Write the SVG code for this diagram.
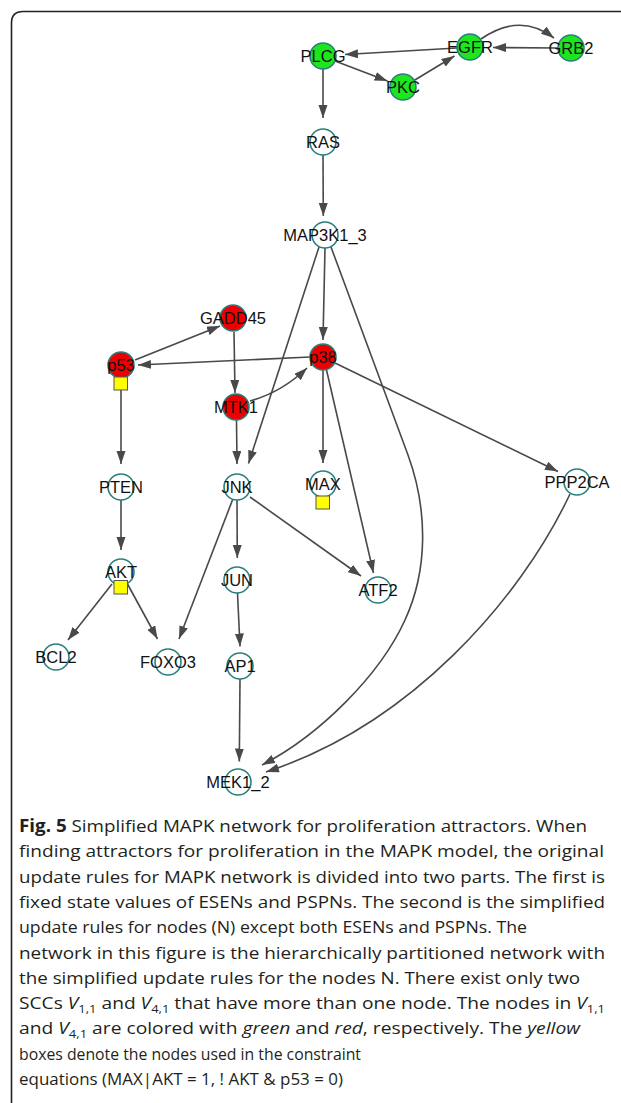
<svg xmlns="http://www.w3.org/2000/svg" width="621" height="1103" viewBox="0 0 621 1103">
<style>
.e{fill:none;stroke:#494949;stroke-width:1.6;marker-end:url(#ah)}
.n{stroke:#2a7f7f;stroke-width:1.6}
.w{fill:#fff}
.g{fill:#1ee61e}
.r{fill:#ee0000}
.lb{font-family:"Liberation Sans",Arial,sans-serif;font-size:16.5px;fill:#111;text-anchor:middle}
.yb{fill:#ffff00;stroke:#555;stroke-width:1}
.cap{font-family:"Open Sans","Noto Sans",sans-serif;font-size:17px;fill:#231f20}
.sub{font-size:11.5px}
</style>
<defs>
<marker id="ah" markerUnits="userSpaceOnUse" markerWidth="14" markerHeight="10" refX="13" refY="4.5" orient="auto">
<path d="M0,0 L13,4.5 L0,9 z" fill="#494949"/>
</marker>
</defs>
<path d="M621 11.5 H23 Q11.5 11.5 11.5 23 V1103" fill="none" stroke="#222" stroke-width="1.6"/>
<g id="connectors">
<path class="e" d="M457 48 L345 54.5"/>
<path class="e" d="M335 61 L387.5 81"/>
<path class="e" d="M414 80.5 L454.5 56"/>
<path class="e" d="M558 48 L493 47.5"/>
<path class="e" d="M481 39 Q520 12 554 38"/>
<path class="e" d="M323 69 L323 118"/>
<path class="e" d="M323 155 L323.3 216"/>
<path class="e" d="M325 248 L323 340"/>
<path class="e" d="M319 247 L248.5 463.5"/>
<path class="e" d="M331 247 L408 455 C428 510 428 570 405 620 C380 675 320 735 262 765"/>
<path class="e" d="M135 360 L220 326"/>
<path class="e" d="M234 332 L235 393"/>
<path class="e" d="M310 357 L138 365"/>
<path class="e" d="M250 401 Q282 392 307 368"/>
<path class="e" d="M236.5 420 L237 464"/>
<path class="e" d="M323 370 L323 463"/>
<path class="e" d="M326.5 370 L373.5 573"/>
<path class="e" d="M335 363 L558 471.5"/>
<path class="e" d="M121 390 L121 464"/>
<path class="e" d="M121 500 L121 550"/>
<path class="e" d="M112 584 L68 640"/>
<path class="e" d="M127.5 584 L157.5 639"/>
<path class="e" d="M232.5 500 L179 639"/>
<path class="e" d="M237 500 L237.3 558"/>
<path class="e" d="M250 497 L361 576"/>
<path class="e" d="M237.5 593 L240 646.5"/>
<path class="e" d="M240 679 L239.3 761.5"/>
<path class="e" d="M570 494 C520 600 410 725 266 772"/>
</g>
<g id="PLCG"><circle class="n g" cx="323" cy="56" r="13"/><text class="lb" x="323" y="61.5">PLCG</text></g>
<g id="EGFR"><circle class="n g" cx="470" cy="47" r="13"/><text class="lb" x="470" y="52.5">EGFR</text></g>
<g id="GRB2"><circle class="n g" cx="571" cy="48" r="13"/><text class="lb" x="571" y="53.5">GRB2</text></g>
<g id="PKC"><circle class="n g" cx="403" cy="87" r="13"/><text class="lb" x="403" y="92.5">PKC</text></g>
<g id="RAS"><circle class="n w" cx="323" cy="142" r="13"/><text class="lb" x="323" y="147.5">RAS</text></g>
<g id="MAP3K1_3"><circle class="n w" cx="325" cy="235" r="13"/><text class="lb" x="325" y="240.5">MAP3K1_3</text></g>
<g id="GADD45"><circle class="n r" cx="233" cy="318" r="13"/><text class="lb" x="233" y="323.5">GADD45</text></g>
<g id="p53"><circle class="n r" cx="121" cy="365" r="13"/><rect class="yb" x="114" y="377" width="13.5" height="13"/><text class="lb" x="121" y="370.5">p53</text></g>
<g id="p38"><circle class="n r" cx="323" cy="357" r="13"/><text class="lb" x="323" y="362.5">p38</text></g>
<g id="MTK1"><circle class="n r" cx="236" cy="407" r="13"/><text class="lb" x="236" y="412.5">MTK1</text></g>
<g id="PTEN"><circle class="n w" cx="121" cy="487" r="13"/><text class="lb" x="121" y="492.5">PTEN</text></g>
<g id="JNK"><circle class="n w" cx="237" cy="487" r="13"/><text class="lb" x="237" y="492.5">JNK</text></g>
<g id="MAX"><circle class="n w" cx="323" cy="484" r="13"/><rect class="yb" x="316" y="496" width="13.5" height="13"/><text class="lb" x="323" y="489.5">MAX</text></g>
<g id="PPP2CA"><circle class="n w" cx="577" cy="482" r="13"/><text class="lb" x="577" y="487.5">PPP2CA</text></g>
<g id="AKT"><circle class="n w" cx="121" cy="572" r="13"/><rect class="yb" x="114" y="580.5" width="13.5" height="13.5"/><text class="lb" x="121" y="577.5">AKT</text></g>
<g id="JUN"><circle class="n w" cx="237" cy="580" r="13"/><text class="lb" x="237" y="585.5">JUN</text></g>
<g id="ATF2"><circle class="n w" cx="378" cy="590" r="13"/><text class="lb" x="378" y="595.5">ATF2</text></g>
<g id="BCL2"><circle class="n w" cx="56" cy="657" r="13"/><text class="lb" x="56" y="662.5">BCL2</text></g>
<g id="FOXO3"><circle class="n w" cx="168" cy="662" r="13"/><text class="lb" x="168" y="667.5">FOXO3</text></g>
<g id="AP1"><circle class="n w" cx="240" cy="666" r="13"/><text class="lb" x="240" y="671.5">AP1</text></g>
<g id="MEK1_2"><circle class="n w" cx="238" cy="782" r="13"/><text class="lb" x="238" y="787.5">MEK1_2</text></g>
<g id="caption" class="cap">
<text x="19" y="832" textLength="568" lengthAdjust="spacingAndGlyphs"><tspan font-weight="bold">Fig. 5</tspan> Simplified MAPK network for proliferation attractors. When</text>
<text x="19" y="857.3" textLength="585" lengthAdjust="spacingAndGlyphs">finding attractors for proliferation in the MAPK model, the original</text>
<text x="19" y="882.6" textLength="586" lengthAdjust="spacingAndGlyphs">update rules for MAPK network is divided into two parts. The first is</text>
<text x="19" y="907.9" textLength="586" lengthAdjust="spacingAndGlyphs">fixed state values of ESENs and PSPNs. The second is the simplified</text>
<text x="19" y="933.2" textLength="508" lengthAdjust="spacingAndGlyphs">update rules for nodes (N) except both ESENs and PSPNs. The</text>
<text x="19" y="958.5" textLength="586" lengthAdjust="spacingAndGlyphs">network in this figure is the hierarchically partitioned network with</text>
<text x="19" y="983.8" textLength="561" lengthAdjust="spacingAndGlyphs">the simplified update rules for the nodes N. There exist only two</text>
<text x="19" y="1009.1" textLength="586" lengthAdjust="spacingAndGlyphs">SCCs <tspan font-style="italic">V</tspan><tspan class="sub" dy="4">1,1</tspan><tspan dy="-4"> and </tspan><tspan font-style="italic">V</tspan><tspan class="sub" dy="4">4,1</tspan><tspan dy="-4"> that have more than one node. The nodes in </tspan><tspan font-style="italic">V</tspan><tspan class="sub" dy="4">1,1</tspan></text>
<text x="19" y="1034.4" textLength="561" lengthAdjust="spacingAndGlyphs">and <tspan font-style="italic">V</tspan><tspan class="sub" dy="4">4,1</tspan><tspan dy="-4"> are colored with </tspan><tspan font-style="italic">green</tspan> and <tspan font-style="italic">red</tspan>, respectively. The <tspan font-style="italic">yellow</tspan></text>
<text x="19" y="1059.7" textLength="342" lengthAdjust="spacingAndGlyphs">boxes denote the nodes used in the constraint</text>
<text x="19" y="1085" textLength="324" lengthAdjust="spacingAndGlyphs">equations (MAX|AKT = 1, ! AKT &amp; p53 = 0)</text>
</g>
</svg>
